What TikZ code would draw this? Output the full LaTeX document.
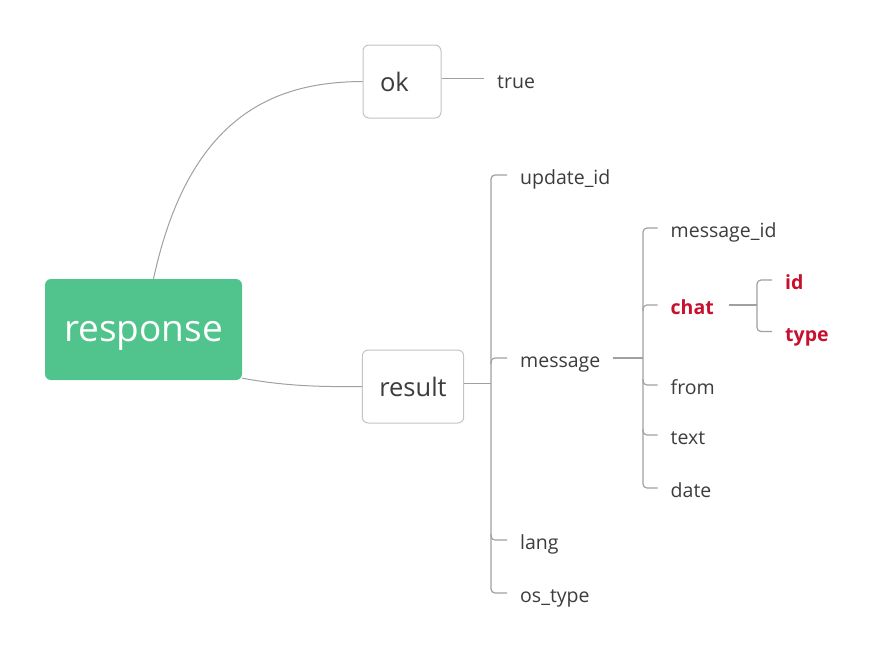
\documentclass[tikz,border=0pt]{standalone}
\usepackage{fontspec}
\setmainfont{Open Sans}
\usetikzlibrary{calc}
\definecolor{mgreen}{HTML}{50C48C}
\definecolor{txt}{HTML}{3C3C3C}
\definecolor{lgray}{HTML}{A0A0A0}
\definecolor{bgray}{HTML}{C4C4C4}
\definecolor{mred}{HTML}{C8102E}
\begin{document}
\begin{tikzpicture}[x=1pt,y=-1pt,
  rootbox/.style={fill=mgreen,rounded corners=6pt,minimum width=197pt,minimum height=101pt,inner sep=0pt,text depth=0pt,text=white,font=\fontsize{37}{40}\selectfont},
  mainbox/.style={draw=bgray,line width=1pt,fill=white,rounded corners=6pt,minimum height=73pt,inner xsep=17pt,inner ysep=0pt,text=txt,font=\fontsize{25.5}{28}\selectfont},
  leaf/.style={anchor=mid west,inner sep=0pt,yshift=-7pt,text=txt,font=\fontsize{19.5}{22}\selectfont},
  redleaf/.style={leaf,text=mred,font=\fontsize{19.5}{22}\selectfont\bfseries},
  conn/.style={draw=lgray,line width=1pt},
  brk/.style={draw=lgray,line width=1.2pt,rounded corners=4pt}]
\useasboundingbox (0,0) rectangle (888,662);

\node[rootbox] (response) at (143.5,329.5) {\raisebox{-4pt}{response}};
\node[mainbox,text width=44pt,align=left] (ok) at (402,81.5) {ok};
\node[mainbox] (result) at (413,386.5) {result};

\draw[conn] ([xshift=10pt]response.north) .. controls (190,110) and (280,82) .. (ok.west);
\draw[conn] ([yshift=2pt]response.south east) .. controls (285,386) and (320,387) .. (result.west);

\node[leaf] (true) at (497,78.5) {true};
\draw[conn] ([yshift=3pt]ok.east) -- ([xshift=-13pt,yshift=7pt]true.mid west);

% result children
\node[leaf] (upd) at (520,175) {update\_id};
\node[leaf] (msg) at (520,358) {message};
\node[leaf] (lang) at (520,540) {lang};
\node[leaf] (os) at (520,593) {os\_type};
\coordinate (rbx) at (491,0);
\draw[brk] ([yshift=3pt]result.east) -- (rbx |- 0,383.5);
\draw[brk] ([xshift=-13pt,yshift=7pt]upd.mid west) -| ($(rbx |- os.mid west)+(0,-7)$) -- ([xshift=-13pt,yshift=7pt]os.mid west);
\draw[brk] ($(rbx |- msg.mid west)+(0,-1)$) |- ([xshift=-13pt,yshift=7pt]msg.mid west);
\draw[brk] ($(rbx |- lang.mid west)+(0,-13)$) |- ([xshift=-13pt,yshift=7pt]lang.mid west);

% message children
\node[leaf] (mid) at (670.5,228) {message\_id};
\node[redleaf] (chat) at (670.5,305) {chat};
\node[leaf] (from) at (670.5,385) {from};
\node[leaf] (text) at (670.5,435) {text};
\node[leaf] (date) at (670.5,488) {date};
\coordinate (mbx) at (643,0);
\draw[brk] ([xshift=12pt,yshift=7pt]msg.mid east) -- ($(mbx |- msg.mid west)+(0,-7)$);
\draw[brk] ([xshift=-13pt,yshift=7pt]mid.mid west) -| ($(mbx |- date.mid west)+(0,-7)$) -- ([xshift=-13pt,yshift=7pt]date.mid west);
\draw[brk] ($(mbx |- chat.mid west)+(0,-1)$) |- ([xshift=-13pt,yshift=7pt]chat.mid west);
\draw[brk] ($(mbx |- from.mid west)+(0,-13)$) |- ([xshift=-13pt,yshift=7pt]from.mid west);
\draw[brk] ($(mbx |- text.mid west)+(0,-13)$) |- ([xshift=-13pt,yshift=7pt]text.mid west);

% chat children
\node[redleaf] (cid) at (785,280) {id};
\node[redleaf] (ctype) at (785,331.5) {type};
\coordinate (cbx) at (757,0);
\draw[brk] ([xshift=15pt,yshift=7pt]chat.mid east) -- ($(cbx |- chat.mid west)+(0,-7)$);
\draw[brk] ([xshift=-13pt,yshift=7pt]cid.mid west) -| ($(cbx |- ctype.mid west)+(0,-7)$) -- ([xshift=-13pt,yshift=7pt]ctype.mid west);
\end{tikzpicture}
\end{document}
